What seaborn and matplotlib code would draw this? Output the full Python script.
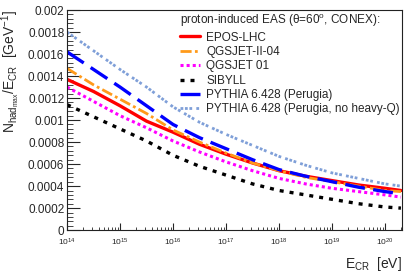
import numpy as np
import pandas as pd
import matplotlib
matplotlib.use("Agg")
import matplotlib.pyplot as plt
import seaborn as sns
from matplotlib.ticker import FixedLocator, MultipleLocator, NullFormatter, LogLocator

# log10(E_CR / eV)
logE = [14, 14.5, 15, 15.5, 16, 16.5, 17, 17.5, 18, 18.5, 19, 19.5, 20, 20.3]

epos = [0.00137, 0.00126, 0.00113, 0.00099, 0.00089, 0.00078, 0.00069, 0.00061, 0.00054, 0.00049, 0.00045, 0.00041, 0.00038, 0.00036]
qgsjet2 = [0.00147, 0.00132, 0.00119, 0.00106, 0.00091, 0.00080, 0.00070, 0.00061, 0.00054, 0.00048, 0.00044, 0.00040, 0.00036, 0.00035]
qgsjet1 = [0.00130, 0.00117, 0.00104, 0.00093, 0.00081, 0.00071, 0.00062, 0.00054, 0.00047, 0.00042, 0.00038, 0.00035, 0.00032, 0.00030]
sibyll = [0.00114, 0.00103, 0.00092, 0.00081, 0.00068, 0.00058, 0.00050, 0.00042, 0.00036, 0.00032, 0.00028, 0.00024, 0.00021, 0.00020]
pythia = [0.00162, 0.00146, 0.00130, 0.00113, 0.00096, 0.00084, 0.00074, 0.00064, 0.00055, 0.00049, 0.00044, 0.00039, 0.00035, 0.00033]
pythia_nohq = [0.00180, 0.00163, 0.00146, 0.00130, 0.00112, 0.00098, 0.00087, 0.00077, 0.00067, 0.00059, 0.00052, 0.00047, 0.00042, 0.00040]

names = ["EPOS-LHC", "QGSJET-II-04", "QGSJET 01", "SIBYLL",
         "PYTHIA 6.428 (Perugia)", "PYTHIA 6.428 (Perugia, no heavy-Q)"]
series = [epos, qgsjet2, qgsjet1, sibyll, pythia, pythia_nohq]
colors = ["#ff0000", "#ff9a1a", "#ff00ff", "#000000", "#0000ff", "#7f9fd8"]
styles = ["-", (0, (4, 1.2, 1, 1.2)), (0, (1, 1)), (0, (1.2, 1.8)), (0, (6, 2.5)), (0, (1, 0.6, 1, 0.6, 1, 1.5))]
widths = [2.4, 2.0, 2.2, 2.4, 2.4, 2.0]

df = pd.DataFrame({"E": np.repeat([10.0 ** np.array(logE)], 6, axis=0).ravel(),
                   "v": np.concatenate(series),
                   "model": np.repeat(names, len(logE))})

sns.set_style("ticks")
plt.rcParams["font.family"] = ["Liberation Sans", "DejaVu Sans"]
plt.rcParams["mathtext.fontset"] = "custom"
plt.rcParams["mathtext.rm"] = "Liberation Sans"
plt.rcParams["mathtext.it"] = "Liberation Sans"

fig = plt.figure(figsize=(4.14, 2.72), dpi=100)
ax = fig.add_axes([0.162, 0.154, 0.809, 0.809])

for n, c, s, w in zip(names, colors, styles, widths):
    sub = df[df["model"] == n]
    sns.lineplot(data=sub, x="E", y="v", ax=ax, color=c, linestyle=s, linewidth=w, label=n)

ax.set_xscale("log")
ax.set_xlim(1e14, 10 ** 20.32)
ax.set_ylim(0, 0.002)

ax.xaxis.set_major_locator(FixedLocator([10.0 ** k for k in range(14, 21)]))
ax.set_xticklabels([r"$10^{%d}$" % k for k in range(14, 21)])
ax.xaxis.set_minor_locator(LogLocator(base=10, subs=np.arange(2, 10), numticks=20))
ax.xaxis.set_minor_formatter(NullFormatter())

ax.yaxis.set_minor_locator(MultipleLocator(0.00004))
ylabs = ["0", "0.0002", "0.0004", "0.0006", "0.0008", "0.001", "0.0012", "0.0014", "0.0016", "0.0018", "0.002"]
ax.set_yticks([k * 0.0002 for k in range(11)])
ax.set_yticklabels(ylabs)

ax.tick_params(axis="y", which="major", direction="in", length=9, width=0.8, labelsize=8.5, pad=2)
ax.tick_params(axis="y", which="minor", direction="in", length=4.5, width=0.6)
ax.tick_params(axis="x", which="major", direction="in", length=5, width=0.8, labelsize=6, pad=5)
ax.tick_params(axis="x", which="minor", direction="in", length=2.5, width=0.6)
for sp in ax.spines.values():
    sp.set_linewidth(0.8)
    sp.set_color("#222222")

ax.set_xlabel(r"$E_{\mathrm{CR}}$  [eV]", fontsize=10, loc="right", labelpad=5)
ax.set_ylabel(r"$N_{\mathrm{had}_{\mathrm{max}}}$/$E_{\mathrm{CR}}$  [GeV$^{-1}$]", fontsize=10, loc="top", labelpad=4)

leg = ax.legend(loc="upper right", bbox_to_anchor=(1.0, 1.0), frameon=False,
                title=r"proton-induced EAS ($\theta$=60$^{\mathrm{o}}$, CONEX):",
                fontsize=8.5, title_fontsize=8.5, handlelength=1.7, handletextpad=0.5,
                labelspacing=0.2, borderaxespad=0.1, borderpad=0.1)
leg._legend_box.align = "left"

fig.savefig("out.png", dpi=100)
